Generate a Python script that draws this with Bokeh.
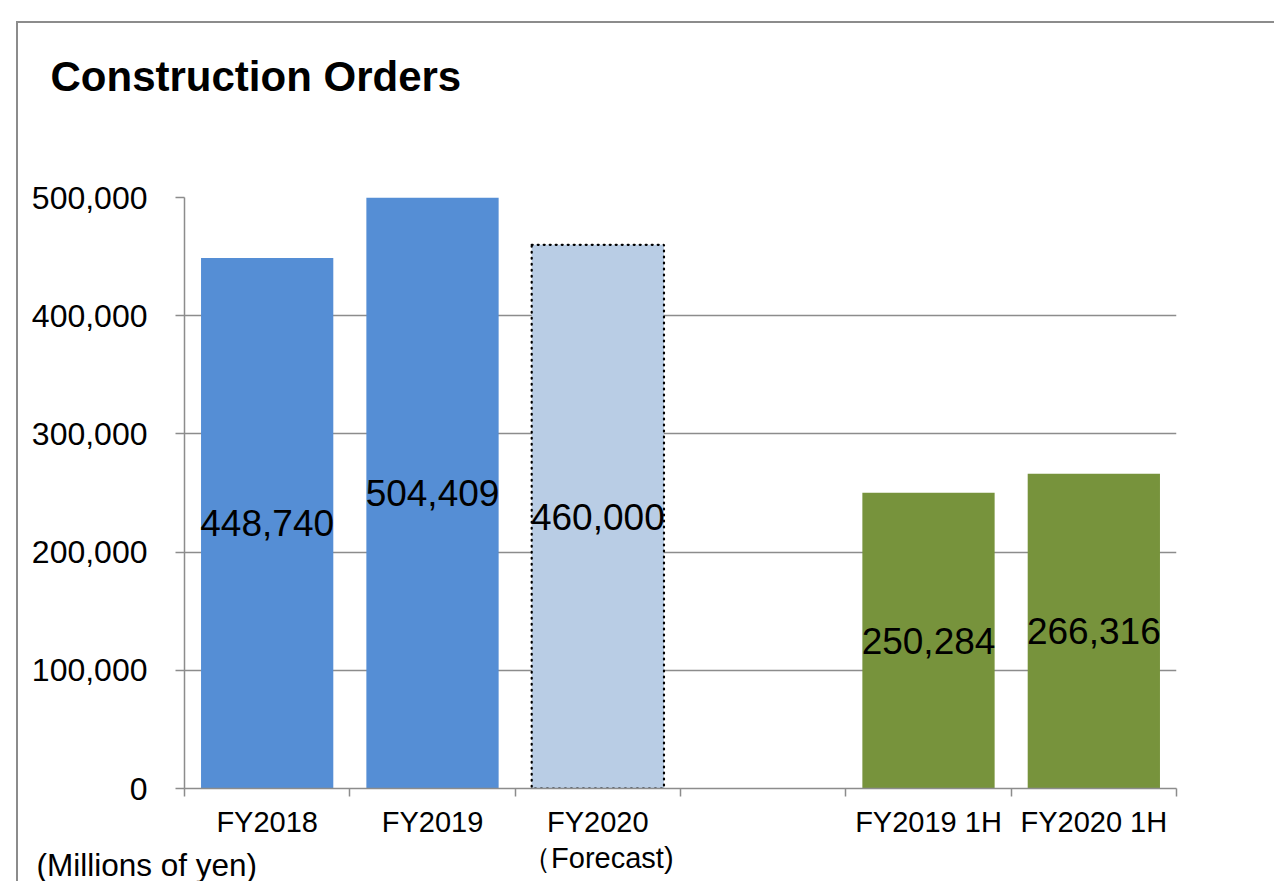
from bokeh.plotting import figure
from bokeh.models import (ColumnDataSource, Range1d, LinearAxis, Title,
                          FixedTicker, NumeralTickFormatter)
from bokeh.core.properties import value
from bokeh.embed import file_html
from bokeh.resources import INLINE

# ---- data ----
categories = ["FY2018", "FY2019", "FY2020\n（Forecast)", "", "FY2019 1H", "FY2020 1H"]
bar_categories = ["FY2018", "FY2019", "FY2020\n（Forecast)", "FY2019 1H", "FY2020 1H"]
bar_values = [448740, 504409, 460000, 250284, 266316]
is_forecast = [False, False, True, False, False]
bar_colors = ["#558ED5", "#558ED5", "#B9CDE5", "#77933C", "#77933C"]
y_ticks = [0, 100000, 200000, 300000, 400000, 500000]
title_text = "Construction Orders"
unit_text = "(Millions of yen)"

FONT = "Liberation Sans"
GRAY = "#8c8c8c"
Y_MAX = y_ticks[-1]
N = len(categories)

p = figure(width=1274, height=881, output_backend="svg", toolbar_location=None,
           x_range=Range1d(0, N), y_range=Range1d(0, Y_MAX),
           x_axis_location=None, y_axis_location=None,
           min_border_left=184, min_border_right=98, min_border_top=197, min_border_bottom=93)
p.outline_line_color = None
p.background_fill_color = "white"
p.border_fill_color = None
# outer chart-area frame line (left and top edges)
p.styles = {
    "background": ("linear-gradient(#8c8c8c, #8c8c8c) 16px 21px / 2px 100% no-repeat, "
                   "linear-gradient(#8c8c8c, #8c8c8c) 16px 21px / 100% 2px no-repeat, white"),
}
p.xgrid.grid_line_color = None
p.ygrid.grid_line_color = GRAY
p.ygrid.grid_line_width = 1.5
p.ygrid.ticker = FixedTicker(ticks=y_ticks)

# titles above: spacer nearest the frame, then the main title
p.title.text = ""
p.add_layout(Title(text=" ", text_font_size="10px", standoff=78, text_color="white"), "above")
p.add_layout(Title(text=title_text, align="left", offset=-134, vertical_align="top", standoff=10,
                   text_font=FONT, text_font_size="42px", text_font_style="bold",
                   text_color="black"), "above")

# y axis
yax = LinearAxis(ticker=FixedTicker(ticks=y_ticks), formatter=NumeralTickFormatter(format="0,0"))
yax.axis_line_color = GRAY
yax.axis_line_width = 1.5
yax.major_tick_line_color = GRAY
yax.major_tick_line_width = 1.5
yax.major_tick_out = 9
yax.major_tick_in = 0
yax.minor_tick_line_color = None
yax.major_label_standoff = 28
yax.major_label_text_font = FONT
yax.major_label_text_font_size = "32px"
yax.major_label_text_color = "black"
p.add_layout(yax, "left")

# x tick axis at category boundaries
bound_ticks = list(range(N + 1))
tax = LinearAxis(ticker=FixedTicker(ticks=bound_ticks))
tax.major_label_overrides = {t: "" for t in bound_ticks}
tax.major_label_text_font_size = "1px"
tax.major_label_standoff = 0
tax.axis_line_color = GRAY
tax.axis_line_width = 1.5
tax.major_tick_line_color = GRAY
tax.major_tick_line_width = 1.5
tax.major_tick_out = 8
tax.major_tick_in = 0
tax.minor_tick_line_color = None
p.add_layout(tax, "below")

# category labels at category centres
centers = [i + 0.5 for i in range(N)]
cax = LinearAxis(ticker=FixedTicker(ticks=centers))
cax.major_label_overrides = {c: name for c, name in zip(centers, categories)}
cax.axis_line_color = None
cax.major_tick_line_color = None
cax.minor_tick_line_color = None
cax.major_label_standoff = 3
cax.major_label_text_font = FONT
cax.major_label_text_font_size = "29px"
cax.major_label_text_line_height = 1.15
cax.major_label_text_color = "black"
p.add_layout(cax, "below")

# unit note below the axis, pulled up beside the labels
p.add_layout(Title(text=unit_text, align="left", offset=-148, vertical_align="top", standoff=-62,
                   text_font=FONT, text_font_size="31.5px", text_font_style="normal",
                   text_color="black"), "below")

# bars
bar_x = [categories.index(c) + 0.5 for c in bar_categories]
solid = [i for i, f in enumerate(is_forecast) if not f]
fc = [i for i, f in enumerate(is_forecast) if f]
src_solid = ColumnDataSource(dict(x=[bar_x[i] for i in solid],
                                  top=[bar_values[i] for i in solid],
                                  color=[bar_colors[i] for i in solid]))
src_fc = ColumnDataSource(dict(x=[bar_x[i] for i in fc],
                               top=[bar_values[i] for i in fc],
                               color=[bar_colors[i] for i in fc]))
p.vbar(x="x", top="top", width=0.8, source=src_solid, fill_color="color", line_color=None)
p.vbar(x="x", top="top", width=0.8, source=src_fc, fill_color="color", line_color="black",
       line_width=2.2, line_dash="1 5", line_cap="round")

# value labels in middle of visible bar
lab_src = ColumnDataSource(dict(x=bar_x,
                                y=[min(v, Y_MAX) / 2 for v in bar_values],
                                t=[f"{v:,}" for v in bar_values]))
p.text(x="x", y="y", text="t", source=lab_src, text_align="center", text_baseline="middle",
       text_font=value(FONT), text_font_size="37px", text_color="black")

open("out.html", "w").write(file_html(p, INLINE))
